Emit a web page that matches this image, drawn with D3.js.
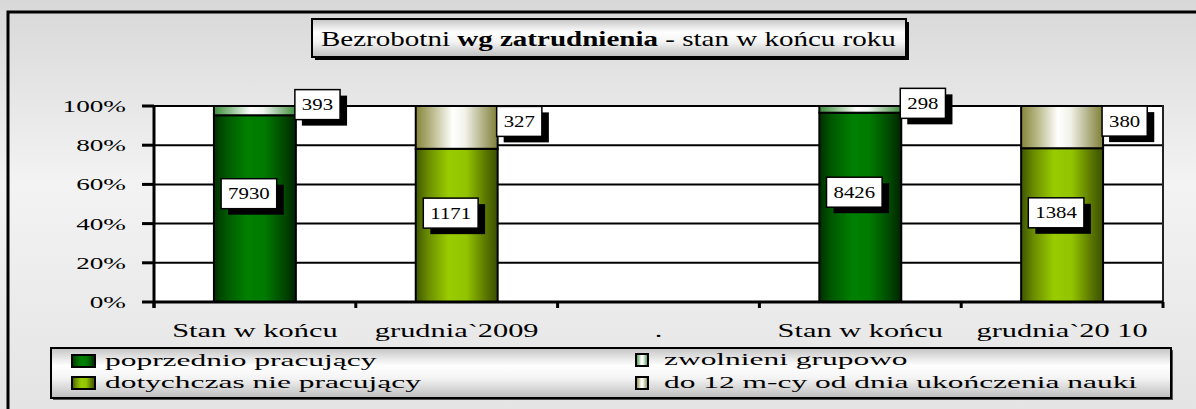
<!DOCTYPE html>
<html>
<head>
<meta charset="utf-8">
<script src="https://cdn.jsdelivr.net/npm/d3@7"></script>
<style>
  body { margin: 0; background: #fff; }
  svg { display: block; }
  svg text { font-family: "Liberation Serif", "DejaVu Serif", serif; fill: #000; }
</style>
</head>
<body>
<script>
// dane
var categoryLabels = ["Stan w końcu", "grudnia`2009", ".", "Stan w końcu", "grudnia`20 10"];
var seriesNames = ["poprzednio pracujący", "dotychczas nie pracujący", "zwolnieni grupowo", "do 12 m-cy od dnia ukończenia nauki"];
var poprzednio = [7930, 0, 0, 8426, 0];
var dotychczas = [0, 1171, 0, 0, 1384];
var zwolnieni = [393, 0, 0, 298, 0];
var do12 = [0, 327, 0, 0, 380];
var yTicks = [0, 0.2, 0.4, 0.6, 0.8, 1];

var w = 1196, h = 409;

var svg = d3.select("body").append("svg").attr("width", w).attr("height", h)
    .attr("font-family", "Liberation Serif, DejaVu Serif, serif");
var defs = svg.append("defs");

function grad(id, stops, vertical) {
    var g = defs.append("linearGradient").attr("id", id)
        .attr("x1", 0).attr("y1", 0).attr("x2", vertical ? 0 : 1).attr("y2", vertical ? 1 : 0);
    stops.forEach(function(s) {
        g.append("stop").attr("offset", s[0]).attr("stop-color", s[1]);
    });
}
grad("bg", [[0, "#d8d8d8"], [0.45, "#f3f3f3"], [1, "#e4e4e4"]], true);
grad("box", [[0, "#c4c4c4"], [0.35, "#ffffff"], [0.6, "#f4f4f4"], [1, "#bdbdbd"]], true);
grad("s0", [[0, "#002f00"], [0.15, "#005800"], [0.4, "#008000"], [0.62, "#007a00"], [0.85, "#004a00"], [1, "#002400"]]);
grad("s1", [[0, "#3f5500"], [0.15, "#6a8c00"], [0.4, "#99cc00"], [0.62, "#92c400"], [0.85, "#5c7800"], [1, "#3a4f00"]]);
grad("s2", [[0, "#3d8f3d"], [0.2, "#8cbf8c"], [0.45, "#ffffff"], [0.6, "#f0f5f0"], [0.85, "#7fb37f"], [1, "#3d8f3d"]]);
grad("s3", [[0, "#85853a"], [0.2, "#b9b98a"], [0.45, "#ffffff"], [0.6, "#f2f2ea"], [0.85, "#a8a878"], [1, "#7f7f36"]]);

// rozciaganie tekstu w poziomie (oryginal jest "szeroki")
function stretch(sel, kk) {
    sel.each(function() {
        var t = d3.select(this);
        var x0 = +t.attr("x") || 0;
        t.attr("transform", "translate(" + (x0 * (1 - kk)) + ",0) scale(" + kk + ",1)");
    });
}
function fitWidth(sel, target) {
    sel.each(function() {
        stretch(d3.select(this), target / this.getComputedTextLength());
    });
}

// tlo i ramka
svg.append("rect").attr("width", w).attr("height", h).attr("fill", "url(#bg)");
svg.append("rect").attr("x", 8).attr("y", 12).attr("width", 1200).attr("height", 420)
    .attr("fill", "none").attr("stroke", "#000").attr("stroke-width", 3);

// tytul
svg.append("rect").attr("x", 315).attr("y", 22).attr("width", 594).attr("height", 38).attr("fill", "#000");
svg.append("rect").attr("x", 312).attr("y", 19).attr("width", 594).attr("height", 38)
    .attr("fill", "url(#box)").attr("stroke", "#000").attr("stroke-width", 2);
var title = svg.append("text").attr("x", 321).attr("y", 46).style("font-size", "20px");
title.append("tspan").text("Bezrobotni ");
title.append("tspan").style("font-weight", "bold").text("wg zatrudnienia");
title.append("tspan").text(" - stan w końcu roku");
fitWidth(title, 575);

// skale
var idx = d3.range(categoryLabels.length);
var x = d3.scaleBand().domain(idx).range([154, 1163]).paddingInner(0.594).paddingOuter(0.297);
var y = d3.scaleLinear().domain([0, 1]).range([302, 106]);
var bw = x.bandwidth();
var edge = (x.step() - bw) / 2;

var table = idx.map(function(i) {
    return { i: i, s0: poprzednio[i], s1: dotychczas[i], s2: zwolnieni[i], s3: do12[i] };
});
var keys = ["s0", "s1", "s2", "s3"];
var stack = d3.stack().keys(keys).offset(d3.stackOffsetExpand);
var layers = stack(table);

// pole wykresu
svg.append("rect").attr("x", 154).attr("y", 106).attr("width", 1163 - 154).attr("height", 196).attr("fill", "#fff");
svg.selectAll(".grid").data(yTicks.slice(1)).enter().append("line")
    .attr("x1", 154).attr("x2", 1163)
    .attr("y1", function(d) { return y(d); }).attr("y2", function(d) { return y(d); })
    .attr("stroke", "#000").attr("stroke-width", 2);
svg.append("line").attr("x1", 1163).attr("x2", 1163).attr("y1", 105).attr("y2", 308)
    .attr("stroke", "#222").attr("stroke-width", 2);

// slupki
layers.forEach(function(layer) {
    svg.selectAll(".bar-" + layer.key)
        .data(layer.filter(function(d) { return d.data[layer.key] > 0; }))
        .enter().append("rect")
        .attr("x", function(d) { return x(d.data.i); })
        .attr("y", function(d) { return y(d[1]); })
        .attr("width", bw)
        .attr("height", function(d) { return y(d[0]) - y(d[1]); })
        .attr("fill", "url(#" + layer.key + ")")
        .attr("stroke", "#000").attr("stroke-width", 2);
});

// osie
svg.append("line").attr("x1", 154).attr("x2", 154).attr("y1", 105).attr("y2", 308)
    .attr("stroke", "#000").attr("stroke-width", 3);
svg.append("line").attr("x1", 154).attr("x2", 1163).attr("y1", 302).attr("y2", 302)
    .attr("stroke", "#000").attr("stroke-width", 3);
svg.selectAll(".ytick").data(yTicks).enter().append("line")
    .attr("x1", 142).attr("x2", 154)
    .attr("y1", function(d) { return y(d); }).attr("y2", function(d) { return y(d); })
    .attr("stroke", "#000").attr("stroke-width", 3);
var ylab = svg.selectAll(".ylab").data(yTicks).enter().append("text")
    .attr("x", 126).attr("y", function(d) { return y(d) + 6; })
    .attr("text-anchor", "end").style("font-size", "17px")
    .text(d3.format(".0%"));
stretch(ylab, 1.6);

var bounds = idx.map(function(i) { return x(i) - edge; }).concat([x(idx.length - 1) + bw + edge]);
svg.selectAll(".xtick").data(bounds).enter().append("line")
    .attr("x1", function(d) { return d; }).attr("x2", function(d) { return d; })
    .attr("y1", 302).attr("y2", 308)
    .attr("stroke", "#000").attr("stroke-width", 3);
var xlab = svg.selectAll(".xlab").data(idx).enter().append("text")
    .attr("x", function(i) { return x(i) + bw / 2; }).attr("y", 337)
    .attr("text-anchor", "middle").style("font-size", "19px")
    .text(function(i) { return categoryLabels[i]; });
stretch(xlab, 1.6);

// etykiety danych
var labels = [];
layers.forEach(function(layer, li) {
    layer.forEach(function(d) {
        var v = d.data[layer.key];
        if (!(v > 0)) return;
        var cx, cy;
        if (li < 2) {
            cx = x(d.data.i) + bw / 2 - 6;
            cy = y(d[0] + (d[1] - d[0]) * 0.58);
        } else {
            cx = null;
            cy = y((d[0] + d[1]) / 2) - 6;
        }
        labels.push({ v: v, cx: cx, cy: cy, left: x(d.data.i) + bw - 1 });
    });
});
labels.forEach(function(l) {
    var g = svg.append("g");
    var t = g.append("text").attr("y", l.cy + 5.5).attr("text-anchor", "middle")
        .style("font-size", "16px").text(l.v);
    var tw = t.node().getComputedTextLength() * 1.3;
    var bwid = tw + 14, bh = 30;
    var cx = l.cx !== null ? l.cx : l.left + bwid / 2;
    t.attr("x", cx);
    stretch(t, 1.3);
    g.insert("rect", "text").attr("x", cx - bwid / 2 + 7).attr("y", l.cy - bh / 2 + 6)
        .attr("width", bwid).attr("height", bh).attr("fill", "#000");
    g.insert("rect", "text").attr("x", cx - bwid / 2).attr("y", l.cy - bh / 2)
        .attr("width", bwid).attr("height", bh).attr("fill", "#fff")
        .attr("stroke", "#000").attr("stroke-width", 1.5);
});

// legenda
svg.append("rect").attr("x", 53).attr("y", 350).attr("width", 1120).attr("height", 50).attr("fill", "#555");
svg.append("rect").attr("x", 51).attr("y", 348).attr("width", 1120).attr("height", 50)
    .attr("fill", "url(#box)").attr("stroke", "#000").attr("stroke-width", 2);
var colX = [72, 636], colSw = [23, 12], colText = [105, 664];
var rowBase = [[366, 388], [365, 388]];
keys.forEach(function(key, i) {
    var c = Math.floor(i / 2), r = i % 2;
    svg.append("rect").attr("x", colX[c]).attr("y", rowBase[c][r] - 11)
        .attr("width", colSw[c]).attr("height", 12)
        .attr("fill", "url(#" + key + ")").attr("stroke", "#000").attr("stroke-width", 2);
    var t = svg.append("text").attr("x", colText[c]).attr("y", rowBase[c][r])
        .style("font-size", "17px").text(seriesNames[i]);
    stretch(t, 1.85);
});
</script>
</body>
</html>
